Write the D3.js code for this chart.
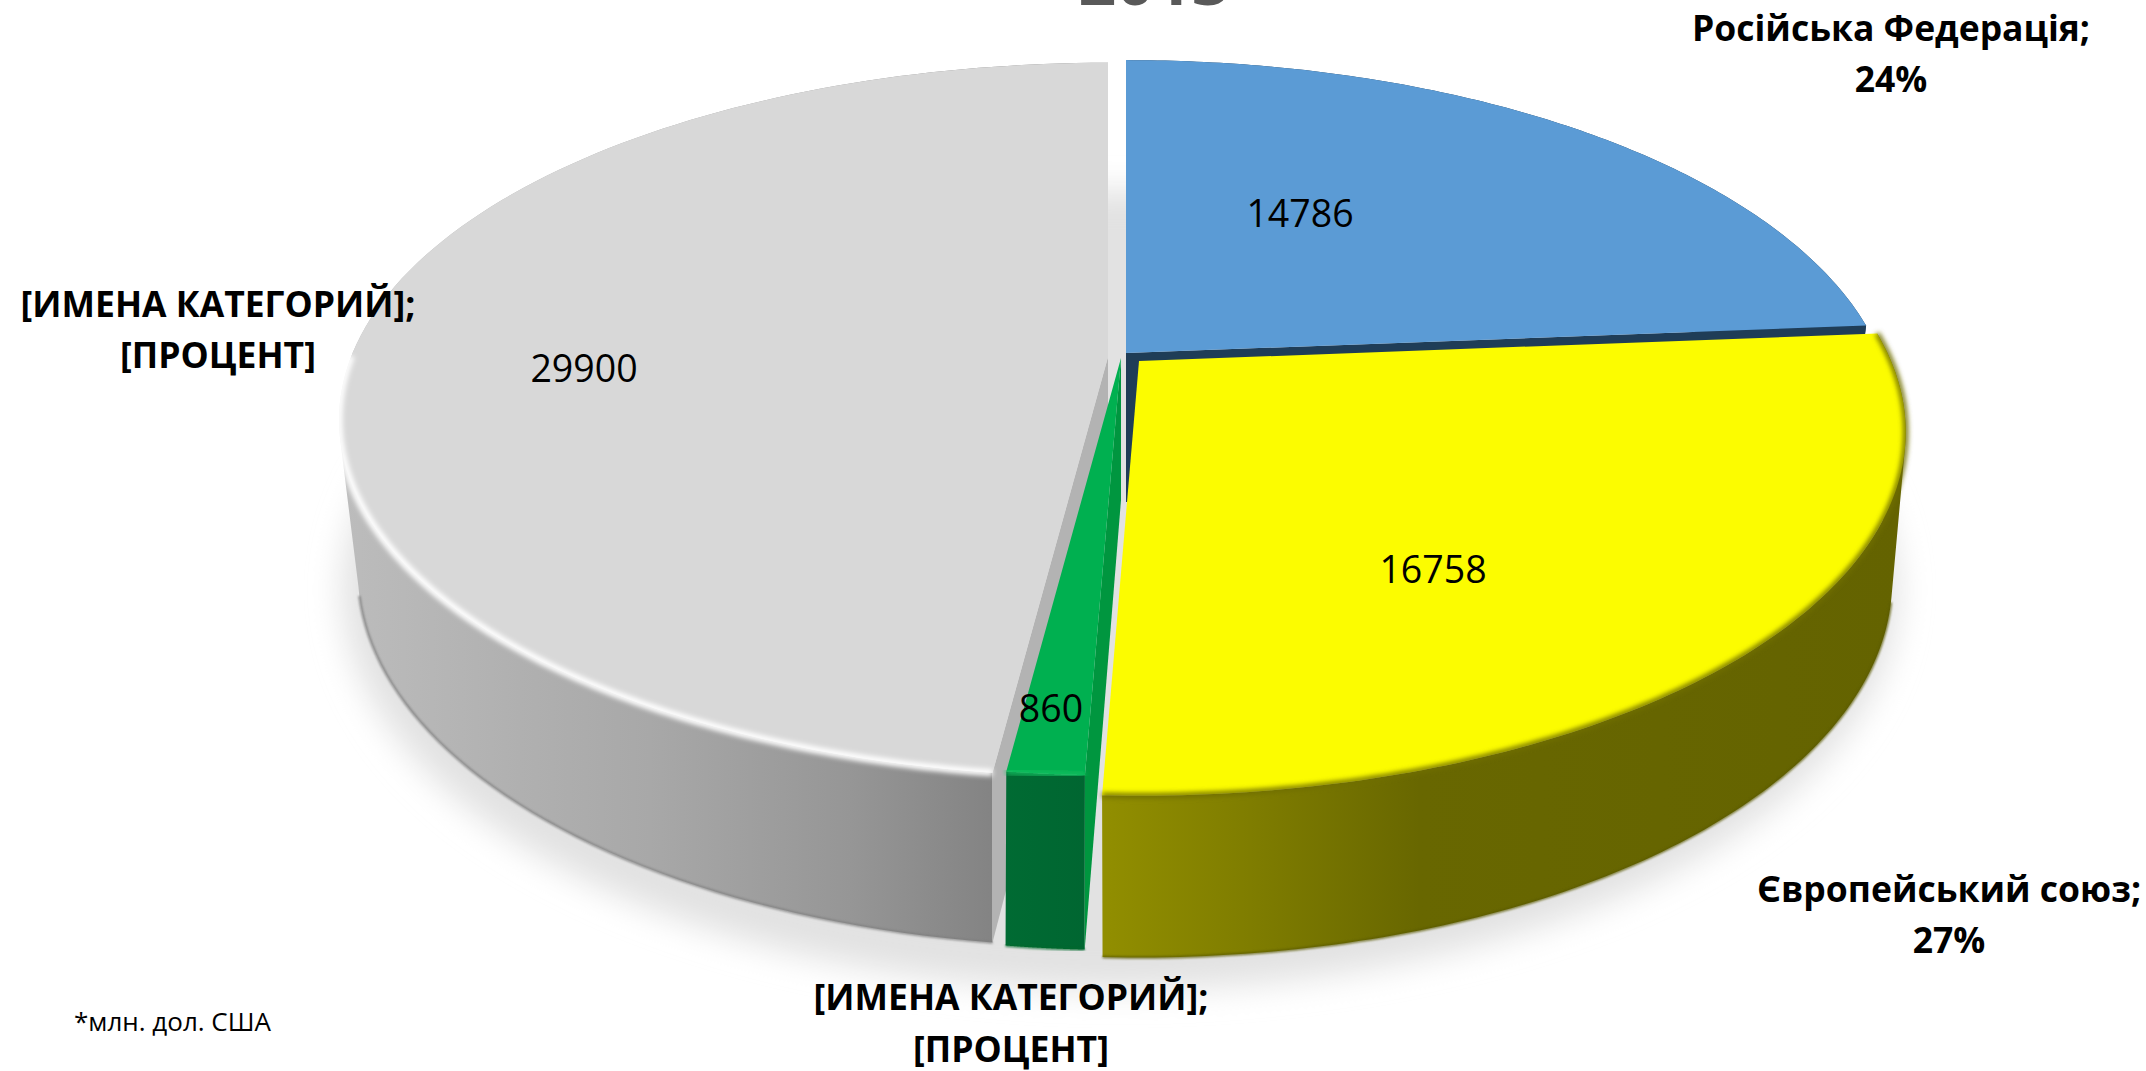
<!DOCTYPE html>
<html><head><meta charset="utf-8">
<script src="https://cdn.jsdelivr.net/npm/d3@7"></script>
<style>html,body{margin:0;padding:0;background:#fff}svg{display:block}text{font-family:"Open Sans",sans-serif}</style>
</head><body><svg id="c" width="2146" height="1071"></svg>
<script>
const categories = ["Російська Федерація","Європейський союз","[ИМЕНА КАТЕГОРИЙ]","[ИМЕНА КАТЕГОРИЙ]"];
const values = [14786,16758,860,29900];
const percentLabels = ["24%","27%","[ПРОЦЕНТ]","[ПРОЦЕНТ]"];
const chartTitle = "2013";
const note = "*млн. дол. США";

const colors = {
  top:["#5b9bd5","#fcfc00","#00b050","#d8d8d8"],
  face:["#1f3d57","#808000","#00963f","#b3b3b3"],
  rim:["#4d86b8","#6f6e00","#12c060","#ffffff"]
};
// Layout of each exploded slice: top rim ellipse, bottom rim ellipse.
const geo = [
 {t:{cx:1126,cy:353,rx:754,ry:350,k:.195}, b:{cx:1126,cy:502,rx:735,ry:362,k:.2}},
 {t:{cx:1139,cy:361,rx:752,ry:350,k:.195}, b:{cx:1139,cy:505,rx:738,ry:362,k:.2}},
 {t:{cx:1121,cy:358,rx:752,ry:344,k:.176}, b:{cx:1121,cy:500,rx:735,ry:360,k:.2}},
 {t:{cx:1108,cy:357,rx:757,ry:346,k:.176}, b:{cx:1108,cy:497,rx:735,ry:360,k:.2}}
];
const labelPos = [
 {x:1891,y:[41,92],anchor:"middle"},
 {x:1949,y:[902,953],anchor:"middle"},
 {x:1011,y:[1010,1062],anchor:"middle"},
 {x:218,y:[317,368],anchor:"middle"}
];
const valuePos = [[1300,227],[1433,583],[1051,722],[584,382]];

const svg = d3.select("#c");
const defs = svg.append("defs");
const blur = (id,s)=>defs.append("filter").attr("id",id).attr("x","-20%").attr("y","-20%").attr("width","140%").attr("height","140%")
  .append("feGaussianBlur").attr("stdDeviation",s);
blur("shadow",16); blur("soft",2.4); blur("soft2",1.2);

function grad(id,stops){
  const g=defs.append("linearGradient").attr("id",id).attr("gradientUnits","userSpaceOnUse").attr("x1",0).attr("x2",2146).attr("y1",0).attr("y2",0);
  stops.forEach(s=>g.append("stop").attr("offset",s[0]/2146).attr("stop-color",s[1]));
}
grad("wall3",[[345,"#bcbcbc"],[520,"#b0b0b0"],[650,"#a8a8a8"],[850,"#969696"],[995,"#838383"]]);
grad("wall1",[[1105,"#918e00"],[1250,"#7f7d00"],[1420,"#686700"],[1900,"#646300"]]);
grad("wall2",[[1000,"#006b33"],[1090,"#006631"]]);
grad("wall0",[[1100,"#1f3d57"],[1900,"#1f3d57"]]);

const pie = d3.pie().sort(null).startAngle(0).endAngle(2*Math.PI);
const arcs = pie(values);

const P = (e,a)=>{const d=Math.cos(a),p=1/(1+e.k*d);return [e.cx+e.rx*Math.sin(a)*p,e.cy-e.ry*d*p];};
const samples=(a,b)=>d3.range(0,121).map(i=>a+(b-a)*i/120);
const line=d3.line();

// shadow under the pie
svg.append("ellipse").attr("cx",1120).attr("cy",590).attr("rx",778).attr("ry",400)
  .attr("fill","#e2e2e2").attr("filter","url(#shadow)");

const order=[0,3,2,1];
order.forEach(i=>{
  const A=arcs[i],g=geo[i],a=A.startAngle,b=A.endAngle;
  const G=svg.append("g");
  const top=samples(a,b).map(t=>P(g.t,t));
  const bot=samples(a,b).map(t=>P(g.b,t));
  // outer wall: consistently wound quads between matching rim points
  const quads=[];
  for(let j=0;j<top.length-1;j++){
    let q=[top[j],top[j+1],bot[j+1],bot[j]];
    if(d3.polygonArea(q)<0) q=q.reverse();
    quads.push(line(q)+"Z");
  }
  G.append("path").attr("d",quads.join("")).attr("fill",`url(#wall${i})`).attr("fill-rule","nonzero");
  // lower edge, only on the part that faces the viewer
  if(i>0){
    const front=samples(a,b).filter(t=>Math.cos(t)<-0.25).map(t=>P(g.b,t));
    G.append("path").attr("d",line(front)).attr("fill","none").attr("stroke",d3.color(colors.face[i]).darker(1)).attr("stroke-width",2.5).attr("filter","url(#soft2)").attr("opacity",.8);
  }
  // cut faces
  const faceAt=(t)=>[[g.t.cx,g.t.cy],P(g.t,t),P(g.b,t),[g.b.cx,g.b.cy]];
  const faces = i===0?[b]:i===2?[a]:i===3?[a]:[];
  faces.forEach(t=>G.append("path").attr("d",line(faceAt(t))+"Z").attr("fill",colors.face[i]));
  // top surface
  G.append("path").attr("d",line([[g.t.cx,g.t.cy]].concat(top))+"Z").attr("fill",colors.top[i]);
  // soft rim
  if(i>0){
    const rimB=i===3?a+(b-a)*0.48:b;
    G.append("path").attr("d",line(samples(a,rimB).map(t=>P(g.t,t))))
      .attr("fill","none").attr("stroke",colors.rim[i]).attr("stroke-width",i===3?7:5).attr("filter","url(#soft)");
  }
});

// labels
const lab=svg.append("g").attr("font-weight",700).attr("font-size",35.5).attr("fill","#000");
categories.forEach((c,i)=>{
  const p=labelPos[i];
  lab.append("text").attr("x",p.x).attr("y",p.y[0]).attr("text-anchor",p.anchor).text(c+";");
  lab.append("text").attr("x",p.x).attr("y",p.y[1]).attr("text-anchor",p.anchor).text(percentLabels[i]);
});
values.forEach((v,i)=>svg.append("text").attr("x",valuePos[i][0]).attr("y",valuePos[i][1]).attr("text-anchor","middle").attr("font-size",37.5).attr("fill","#000").text(v));
svg.append("text").attr("x",1154).attr("y",5).attr("text-anchor","middle").attr("font-size",66).attr("font-weight",700).attr("fill","#595959").text(chartTitle);
svg.append("text").attr("x",74).attr("y",1031).attr("font-size",26).attr("fill","#000").text(note);
</script></body></html>
